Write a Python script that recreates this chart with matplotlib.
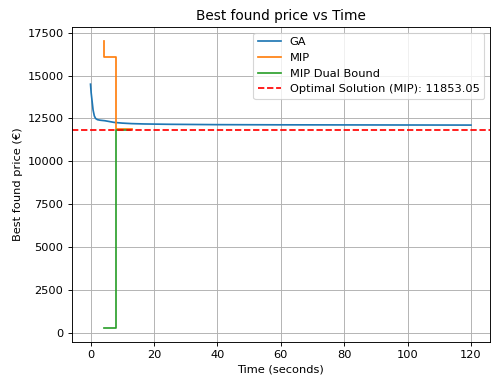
import matplotlib
matplotlib.use("Agg")
import matplotlib.pyplot as plt

ga_time = [0, 0.2, 0.5, 0.8, 1.2, 1.6, 2.2, 3, 4.5, 6, 7.5, 10, 13, 17, 25, 40, 60, 80, 100, 120]
ga_price = [14500, 14000, 13500, 13000, 12650, 12500, 12430, 12400, 12370, 12320, 12270,
            12230, 12200, 12180, 12160, 12140, 12130, 12125, 12120, 12115]

mip_time = [4.3, 4.3, 7.9, 13.0]
mip_price = [17000, 16100, 11900, 11900]

dual_time = [4.2, 7.9, 12.5]
dual_bound = [300, 11853.05, 11853.05]

optimal = 11853.05

DPI = 82
fig = plt.figure(figsize=(492 / DPI, 378 / DPI), dpi=DPI)
ax = fig.add_axes([71.5 / 492, 1 - 342 / 378, (490 - 71.5) / 492, (342 - 27) / 378])
ax.plot(ga_time, ga_price, label="GA", color="#1f77b4")
ax.plot(mip_time, mip_price, drawstyle="steps-post", label="MIP", color="#ff7f0e")
ax.plot(dual_time, dual_bound, drawstyle="steps-post", label="MIP Dual Bound", color="#2ca02c")
ax.axhline(optimal, color="red", linestyle="--", label=f"Optimal Solution (MIP): {optimal:.2f}")
ax.set_title("Best found price vs Time")
ax.set_xlabel("Time (seconds)")
ax.set_ylabel("Best found price (€)")
ax.grid(True)
ax.legend(loc="upper right")
fig.savefig("out.png", dpi=DPI)
